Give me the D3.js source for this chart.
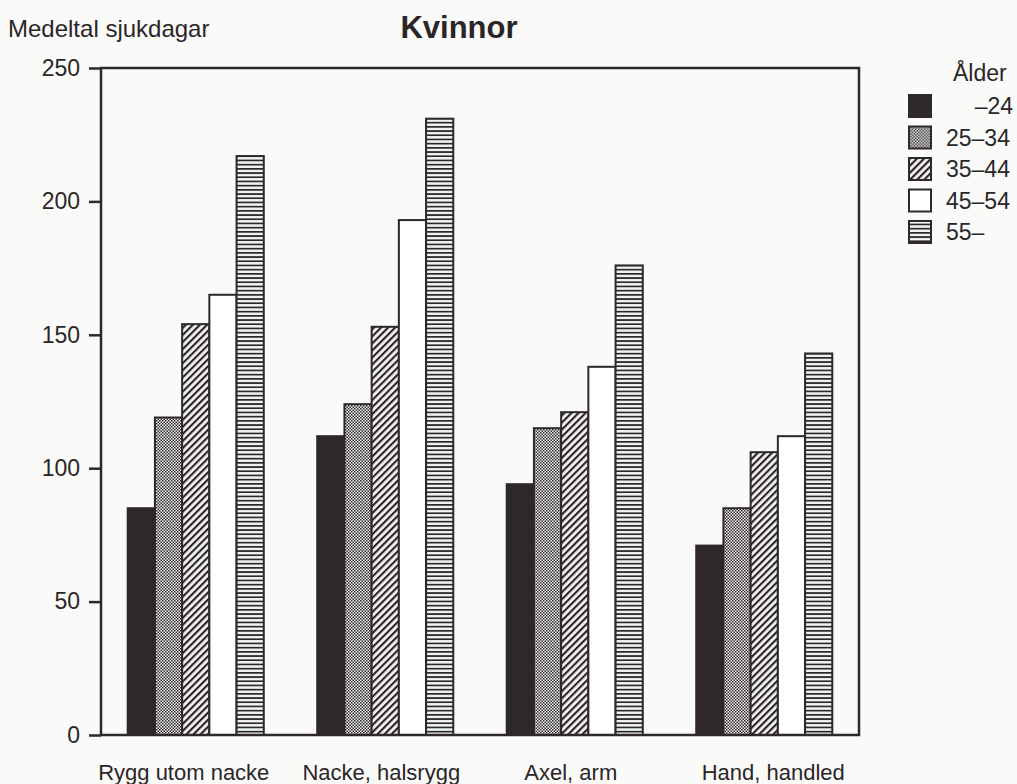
<!DOCTYPE html>
<html>
<head>
<meta charset="utf-8">
<script src="https://cdn.jsdelivr.net/npm/d3@7"></script>
<style>
  html, body { margin: 0; padding: 0; background: #fafaf8; }
  svg { display: block; }
  text { font-family: "Liberation Sans", Arial, Helvetica, sans-serif; fill: #2a2628; }
</style>
</head>
<body>
<svg id="chart" width="1017" height="784"></svg>
<script>
const categories = ["Rygg utom nacke", "Nacke, halsrygg", "Axel, arm", "Hand, handled"];
const ageGroups = ["\u201324", "25\u201334", "35\u201344", "45\u201354", "55\u2013"];
const s_u24   = [85, 112, 94, 71];
const s_25_34 = [119, 124, 115, 85];
const s_35_44 = [154, 153, 121, 106];
const s_45_54 = [165, 193, 138, 112];
const s_55    = [217, 231, 176, 143];
const yTicks = [0, 50, 100, 150, 200, 250];
const yLabel = "Medeltal sjukdagar";
const title = "Kvinnor";
const legendTitle = "\u00c5lder";

const seriesValues = [s_u24, s_25_34, s_35_44, s_45_54, s_55];
const dark = "#2e282b";

const svg = d3.select("#chart");
const margin = { left: 101, right: 158, top: 68, bottom: 49 };
const W = 1017, H = 784;

const x0 = d3.scaleBand().domain(categories)
  .range([margin.left, W - margin.right])
  .paddingInner(0.282).paddingOuter(0.141);
const x1 = d3.scaleBand().domain(ageGroups).range([0, x0.bandwidth()]);
const y = d3.scaleLinear().domain([0, 250]).range([H - margin.bottom, margin.top]);

// patterns
const defs = svg.append("defs");
const pDots = defs.append("pattern").attr("id", "pDots").attr("patternUnits", "userSpaceOnUse")
  .attr("width", 3).attr("height", 3);
pDots.append("rect").attr("width", 3).attr("height", 3).attr("fill", "#f4f4f2");
pDots.append("rect").attr("x", 0).attr("y", 0).attr("width", 1.5).attr("height", 1.5).attr("fill", dark);
pDots.append("rect").attr("x", 1.5).attr("y", 1.5).attr("width", 1.5).attr("height", 1.5).attr("fill", dark);

const pDiag = defs.append("pattern").attr("id", "pDiag").attr("patternUnits", "userSpaceOnUse")
  .attr("width", 5).attr("height", 10).attr("patternTransform", "rotate(45)");
pDiag.append("rect").attr("width", 5).attr("height", 10).attr("fill", "#f6f6f4");
pDiag.append("rect").attr("width", 2.2).attr("height", 10).attr("fill", dark);

const pHor = defs.append("pattern").attr("id", "pHor").attr("patternUnits", "userSpaceOnUse")
  .attr("width", 10).attr("height", 4.2);
pHor.append("rect").attr("width", 10).attr("height", 4.2).attr("fill", "#eef2f0");
pHor.append("rect").attr("y", 0).attr("width", 10).attr("height", 1.7).attr("fill", dark);

const fills = [dark, "url(#pDots)", "url(#pDiag)", "#ffffff", "url(#pHor)"];
const color = d3.scaleOrdinal().domain(ageGroups).range(fills);

// data table
const table = [];
categories.forEach((c, ci) => {
  ageGroups.forEach((a, ai) => table.push({ cat: c, age: a, value: seriesValues[ai][ci] }));
});

// bars
svg.append("g").selectAll("rect").data(table).join("rect")
  .attr("x", d => x0(d.cat) + x1(d.age))
  .attr("y", d => y(d.value))
  .attr("width", x1.bandwidth())
  .attr("height", d => y(0) - y(d.value))
  .attr("fill", d => color(d.age))
  .attr("stroke", dark).attr("stroke-width", 2);

// frame
svg.append("rect")
  .attr("x", margin.left).attr("y", margin.top)
  .attr("width", W - margin.right - margin.left)
  .attr("height", H - margin.bottom - margin.top)
  .attr("fill", "none").attr("stroke", dark).attr("stroke-width", 2.5);

// y axis
const yAxis = d3.axisLeft(y).tickValues(yTicks).tickSize(12).tickSizeOuter(0).tickPadding(9);
const gy = svg.append("g").attr("transform", `translate(${margin.left},0)`).call(yAxis);
gy.select(".domain").remove();
gy.selectAll(".tick line").attr("stroke", dark).attr("stroke-width", 2.5);
gy.selectAll(".tick text").attr("font-size", 23).attr("fill", "#2a2628")
  .attr("font-family", "Liberation Sans, Arial, sans-serif");

// x axis labels (slight per-label offsets as in the original print)
const labelShift = [-12, -4, -4, 9];
const xAxis = d3.axisBottom(x0).tickSize(0).tickPadding(29);
const gx = svg.append("g").attr("transform", `translate(0,${H - margin.bottom})`).call(xAxis);
gx.select(".domain").remove();
gx.selectAll(".tick text").attr("font-size", 22).attr("fill", "#2a2628")
  .attr("font-family", "Liberation Sans, Arial, sans-serif")
  .attr("dx", (d, i) => labelShift[i]);

// titles
svg.append("text").attr("x", 8).attr("y", 37).attr("font-size", 24).text(yLabel);
svg.append("text").attr("x", 459).attr("y", 38).attr("text-anchor", "middle")
  .attr("font-size", 31).attr("font-weight", "bold").text(title);

// legend
const lg = svg.append("g");
lg.append("text").attr("x", 953).attr("y", 81).attr("font-size", 23).text(legendTitle);
const legY = d3.scalePoint().domain(ageGroups).range([106, 232]);
const items = lg.selectAll("g.item").data(ageGroups).join("g").attr("class", "item")
  .attr("transform", d => `translate(0,${legY(d)})`);
items.append("rect").attr("x", 909).attr("y", -11).attr("width", 22).attr("height", 22)
  .attr("fill", d => color(d)).attr("stroke", dark).attr("stroke-width", 2);
items.append("text")
  .attr("x", (d, i) => i === 0 ? 1013 : 946)
  .attr("text-anchor", (d, i) => i === 0 ? "end" : "start")
  .attr("y", 8).attr("font-size", 23).text(d => d);
</script>
</body>
</html>
